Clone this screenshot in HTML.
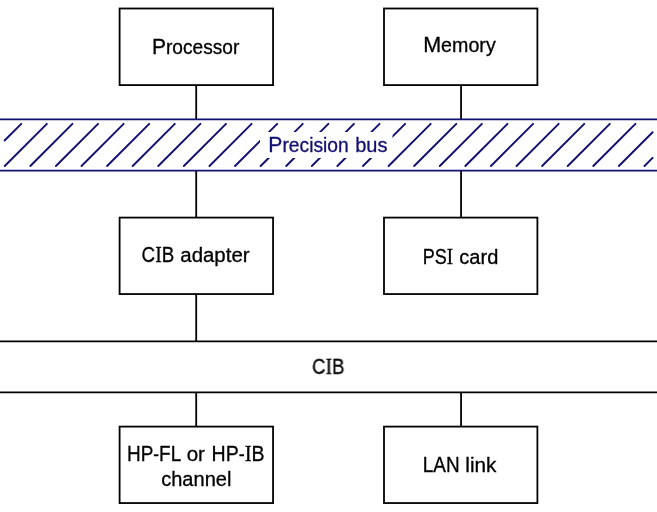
<!DOCTYPE html>
<html><head><meta charset="utf-8"><style>
html,body{margin:0;padding:0;background:#fff;width:657px;height:512px;overflow:hidden}
svg{position:absolute;left:0;top:0}
</style></head><body>
<svg width="657" height="512" viewBox="0 0 657 512">
<defs><clipPath id="hc"><path d="M0 0H657V512H0Z M260 132V158H392.5V132Z" clip-rule="evenodd"/></clipPath></defs>
<g fill="none" stroke="#000" stroke-width="1.8">
<rect x="119.60" y="8.50" width="153.45" height="76.60"/>
<rect x="119.60" y="217.60" width="153.45" height="76.45"/>
<rect x="119.60" y="426.60" width="153.45" height="76.46"/>
<rect x="384.00" y="8.50" width="153.40" height="76.60"/>
<rect x="384.00" y="217.60" width="153.40" height="76.45"/>
<rect x="384.00" y="426.60" width="153.40" height="76.46"/>
<line x1="196.20" y1="85.10" x2="196.20" y2="119.25"/>
<line x1="461.05" y1="85.10" x2="461.05" y2="119.25"/>
<line x1="196.20" y1="170.50" x2="196.20" y2="217.60"/>
<line x1="461.05" y1="170.50" x2="461.05" y2="217.60"/>
<line x1="196.20" y1="294.05" x2="196.20" y2="341.34"/>
<line x1="196.20" y1="392.40" x2="196.20" y2="426.60"/>
<line x1="461.05" y1="392.40" x2="461.05" y2="426.60"/>
<line x1="0" y1="341.34" x2="657" y2="341.34" stroke-width="1.7"/>
<line x1="0" y1="392.40" x2="657" y2="392.40" stroke-width="1.7"/>
</g>
<g fill="none" stroke="#121070" stroke-width="1.75">
<line x1="0" y1="119.25" x2="657" y2="119.25"/>
<line x1="0" y1="170.50" x2="657" y2="170.50"/>
</g>
<g fill="none" stroke="#121070" stroke-width="1.95" stroke-linecap="round" clip-path="url(#hc)">
<line x1="4.60" y1="140.56" x2="21.26" y2="123.90"/>
<line x1="4.75" y1="166.00" x2="46.85" y2="123.90"/>
<line x1="30.34" y1="166.00" x2="72.44" y2="123.90"/>
<line x1="55.93" y1="166.00" x2="98.03" y2="123.90"/>
<line x1="81.52" y1="166.00" x2="123.62" y2="123.90"/>
<line x1="107.11" y1="166.00" x2="149.21" y2="123.90"/>
<line x1="132.70" y1="166.00" x2="174.80" y2="123.90"/>
<line x1="158.29" y1="166.00" x2="200.39" y2="123.90"/>
<line x1="183.88" y1="166.00" x2="225.98" y2="123.90"/>
<line x1="209.47" y1="166.00" x2="251.57" y2="123.90"/>
<line x1="235.06" y1="166.00" x2="277.16" y2="123.90"/>
<line x1="260.65" y1="166.00" x2="302.75" y2="123.90"/>
<line x1="286.24" y1="166.00" x2="328.34" y2="123.90"/>
<line x1="311.83" y1="166.00" x2="353.93" y2="123.90"/>
<line x1="337.42" y1="166.00" x2="379.52" y2="123.90"/>
<line x1="363.01" y1="166.00" x2="405.11" y2="123.90"/>
<line x1="388.60" y1="166.00" x2="430.70" y2="123.90"/>
<line x1="414.19" y1="166.00" x2="456.29" y2="123.90"/>
<line x1="439.78" y1="166.00" x2="481.88" y2="123.90"/>
<line x1="465.37" y1="166.00" x2="507.47" y2="123.90"/>
<line x1="490.96" y1="166.00" x2="533.06" y2="123.90"/>
<line x1="516.55" y1="166.00" x2="558.65" y2="123.90"/>
<line x1="542.14" y1="166.00" x2="584.24" y2="123.90"/>
<line x1="567.73" y1="166.00" x2="609.83" y2="123.90"/>
<line x1="593.32" y1="166.00" x2="635.42" y2="123.90"/>
<line x1="618.91" y1="166.00" x2="652.60" y2="132.31"/>
<line x1="644.50" y1="166.00" x2="652.60" y2="157.90"/>
</g>
<g font-family="Liberation Sans, sans-serif" font-size="19.5" fill="#000" stroke="#000" stroke-width="0.3" style="will-change:transform">
<text transform="translate(151.88 53.90) scale(0.9828 1) skewX(0.01)"><tspan font-size="21.40">P</tspan>rocessor</text>
<text transform="translate(423.14 51.90) scale(1.0082 1) skewX(0.01)"><tspan font-size="21.40">M</tspan>emory</text>
<text transform="translate(268.37 151.60) scale(0.9873 1) skewX(0.01)" fill="#121070" stroke="#121070"><tspan font-size="21.40">P</tspan>recision</text>
<text transform="translate(355.22 151.60) scale(1.0271 1) skewX(0.01)" fill="#121070" stroke="#121070">bus</text>
<text transform="translate(141.61 261.60) scale(0.8771 1) skewX(0.01)"><tspan font-size="21.40">C</tspan><tspan font-family="Liberation Serif" font-size="22.53">I</tspan><tspan font-size="21.40">B</tspan></text>
<text transform="translate(180.28 261.60) scale(1.0477 1) skewX(0.01)">adapter</text>
<text transform="translate(422.63 263.50) scale(0.8418 1) skewX(0.01)"><tspan font-size="21.40">P</tspan><tspan font-size="21.40">S</tspan><tspan font-family="Liberation Serif" font-size="22.53">I</tspan></text>
<text transform="translate(459.30 263.50) scale(1.0294 1) skewX(0.01)">card</text>
<text transform="translate(312.22 373.90) scale(0.8686 1) skewX(0.01)"><tspan font-size="21.40">C</tspan><tspan font-family="Liberation Serif" font-size="22.53">I</tspan><tspan font-size="21.40">B</tspan></text>
<text transform="translate(127.05 460.60) scale(0.8851 1) skewX(0.01)"><tspan font-size="21.40">H</tspan><tspan font-size="21.40">P</tspan>-<tspan font-size="21.40">F</tspan><tspan font-size="21.40">L</tspan></text>
<text transform="translate(186.68 460.60) scale(1.0543 1) skewX(0.01)">or</text>
<text transform="translate(211.50 460.60) scale(0.9161 1) skewX(0.01)"><tspan font-size="21.40">H</tspan><tspan font-size="21.40">P</tspan>-<tspan font-family="Liberation Serif" font-size="22.53">I</tspan><tspan font-size="21.40">B</tspan></text>
<text transform="translate(161.20 485.60) scale(1.0284 1) skewX(0.01)">channel</text>
<text transform="translate(422.75 472.40) scale(0.8839 1) skewX(0.01)"><tspan font-size="21.40">L</tspan><tspan font-size="21.40">A</tspan><tspan font-size="21.40">N</tspan></text>
<text transform="translate(465.33 472.40) scale(1.0655 1) skewX(0.01)">link</text>
</g>
</svg>
</body></html>
